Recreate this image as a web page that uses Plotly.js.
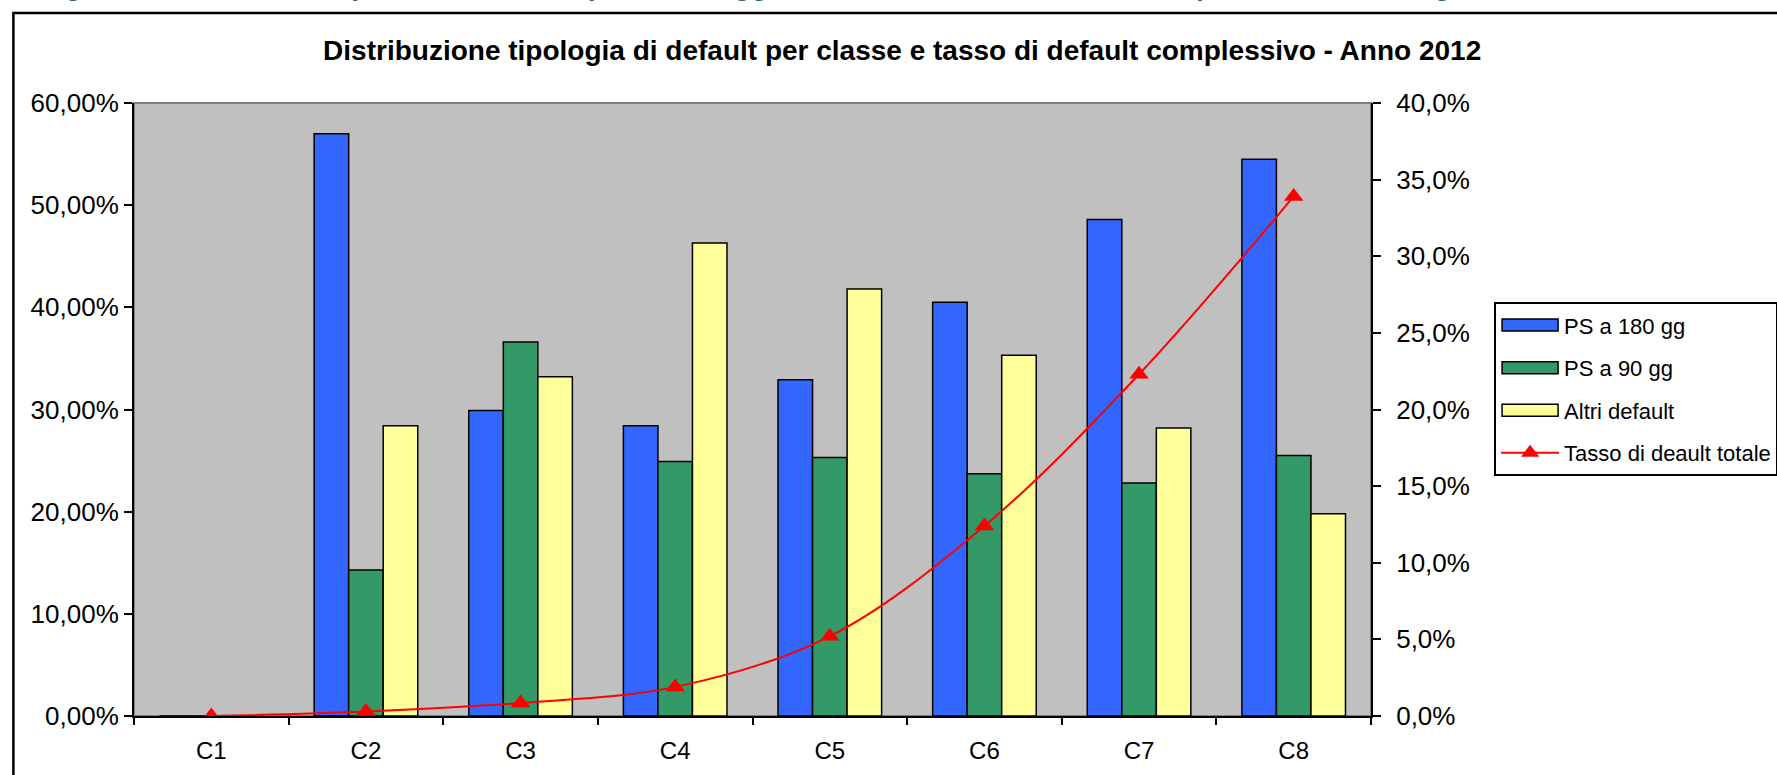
<!DOCTYPE html>
<html>
<head>
<meta charset="utf-8">
<script src="https://cdn.plot.ly/plotly-3.0.1.min.js"></script>
<style>
  html, body { margin: 0; padding: 0; background: #ffffff; }
  #chart { width: 1777px; height: 775px; }
</style>
</head>
<body>
<div id="chart"></div>
<script>
// ---- data ----
const categories = ['C1', 'C2', 'C3', 'C4', 'C5', 'C6', 'C7', 'C8'];
const ps180 = [0, 57.0, 29.9, 28.4, 32.9, 40.5, 48.6, 54.5];
const ps90 = [0, 14.3, 36.6, 24.9, 25.3, 23.7, 22.8, 25.5];
const altri = [0, 28.4, 33.2, 46.3, 41.8, 35.3, 28.2, 19.8];
const tasso = [0.0, 0.3, 0.85, 1.9, 5.2, 12.4, 22.3, 33.9];
const seriesNames = ['PS a 180 gg', 'PS a 90 gg', 'Altri default', 'Tasso di deault totale'];
const chartTitle = 'Distribuzione tipologia di default per classe e tasso di default complessivo - Anno 2012';
const captionText = 'Figura 5: Distribuzione percentuale delle posizioni oggetto di default e tasso di default per classe di rating - Anno 2012';

const FONT = 'Liberation Sans, Arial, Helvetica, sans-serif';
const barLine = { color: '#000000', width: 1.5 };

const traces = [
  { type: 'bar', name: seriesNames[0], x: categories, y: ps180,
    marker: { color: '#3366FF', line: barLine }, legendgroup: 'a', hoverinfo: 'x+y' },
  { type: 'bar', name: seriesNames[1], x: categories, y: ps90,
    marker: { color: '#339966', line: barLine }, legendgroup: 'b', hoverinfo: 'x+y' },
  { type: 'bar', name: seriesNames[2], x: categories, y: altri,
    marker: { color: '#FFFF99', line: barLine }, legendgroup: 'c', hoverinfo: 'x+y' },
  { type: 'scatter', mode: 'lines+markers', name: seriesNames[3], x: categories, y: tasso,
    yaxis: 'y2', line: { color: '#FF0000', width: 2, shape: 'spline', smoothing: 1 },
    marker: { symbol: 'triangle-up', size: 17, color: '#FF0000' }, legendgroup: 'd' }
];

const n = categories.length;
const boundaries = Array.from({ length: n + 1 }, (_, i) => i - 0.5);

const layout = {
  width: 1777, height: 775,
  margin: { l: 134, r: 406, t: 103, b: 59, pad: 0, autoexpand: false },
  paper_bgcolor: '#ffffff',
  plot_bgcolor: '#C0C0C0',
  separators: ',.',
  showlegend: true,
  barmode: 'group',
  bargap: 0.33,
  bargroupgap: 0,
  font: { family: FONT, color: '#000000', size: 26 },
  title: {
    text: chartTitle,
    font: { family: FONT, size: 28, weight: 'bold', color: '#000000' },
    xref: 'paper', x: 0.621, xanchor: 'center',
    yref: 'container', y: 1 - 50 / 775, yanchor: 'middle'
  },
  xaxis: {
    type: 'category', range: [-0.5, n - 0.5], autorange: false,
    showline: true, linecolor: '#000000', linewidth: 2,
    ticks: 'outside', tickson: 'boundaries', ticklen: 7, tickwidth: 2, tickcolor: '#000000',
    showgrid: false, zeroline: false,
    tickfont: { family: FONT, size: 24 }, ticklabelstandoff: 12
  },
  xaxis2: {
    overlaying: 'x', anchor: 'y', range: [-0.5, n - 0.5], autorange: false,
    tickmode: 'array', tickvals: boundaries, ticks: 'inside', ticklen: 6, tickwidth: 2,
    tickcolor: '#000000', showticklabels: false, showgrid: false, zeroline: false, showline: false
  },
  yaxis: {
    range: [0, 60], autorange: false, dtick: 10, tick0: 0,
    tickformat: '.2f', ticksuffix: '%',
    showline: true, linecolor: '#000000', linewidth: 2,
    ticks: 'outside', ticklen: 8, tickwidth: 2, tickcolor: '#000000',
    showgrid: false, zeroline: false,
    tickfont: { family: FONT, size: 26 }
  },
  yaxis3: {
    overlaying: 'y', side: 'left', anchor: 'x', range: [0, 60], autorange: false, dtick: 10,
    ticks: 'inside', ticklen: 6, tickwidth: 2, tickcolor: '#000000',
    showticklabels: false, showgrid: false, zeroline: false, showline: false
  },
  yaxis2: {
    overlaying: 'y', side: 'right', anchor: 'x',
    range: [0, 40], autorange: false, dtick: 5, tick0: 0,
    tickformat: '.1f', ticksuffix: '%',
    showline: true, linecolor: '#000000', linewidth: 2,
    ticks: 'outside', ticklen: 8, tickwidth: 2, tickcolor: '#000000',
    showgrid: false, zeroline: false,
    tickfont: { family: FONT, size: 26 }, ticklabelstandoff: 10
  },
  yaxis4: {
    overlaying: 'y', side: 'right', anchor: 'x', range: [0, 40], autorange: false, dtick: 5,
    ticks: 'inside', ticklen: 7, tickwidth: 2, tickcolor: '#000000',
    showticklabels: false, showgrid: false, zeroline: false, showline: false
  },
  legend: {
    x: 1.0995, y: 0.675, xanchor: 'left', yanchor: 'top',
    bgcolor: '#ffffff', bordercolor: '#000000', borderwidth: 2,
    font: { family: FONT, size: 22, color: '#000000' },
    traceorder: 'grouped', tracegroupgap: 11, itemwidth: 58
  },
  shapes: [
    { type: 'rect', xref: 'paper', yref: 'paper', x0: 0, x1: 1, y0: 0, y1: 1,
      line: { color: '#808080', width: 2 }, fillcolor: 'rgba(0,0,0,0)', layer: 'below' },
    { type: 'rect', xref: 'paper', yref: 'paper', x0: -0.0975, x1: 1.6, y0: -0.3, y1: 1.1467,
      line: { color: '#000000', width: 2.5 }, fillcolor: 'rgba(0,0,0,0)', layer: 'below' }
  ],
  annotations: [
    { text: captionText, xref: 'paper', yref: 'paper', x: -0.078, xanchor: 'left',
      y: 1.163, yanchor: 'bottom', showarrow: false,
      font: { family: FONT, size: 28, weight: 'bold', color: '#2E6B3E' } }
  ]
};

function widenLegendBars() {
  // Excel-style wide rectangles for the bar entries of the legend
  document.querySelectorAll('#chart .legend .legendpoints path').forEach(function (p) {
    const d = (p.getAttribute('d') || '').replace(/\s/g, '');
    if (/^M6,6H-6V-6H6Z$/i.test(d) || p.classList.contains('legendbar')) {
      p.setAttribute('d', 'M28,6H-28V-6H28Z');
    }
  });
}

const gd = document.getElementById('chart');
Plotly.newPlot(gd, traces, layout, { displayModeBar: false, staticPlot: true }).then(function () {
  widenLegendBars();
  gd.on && gd.on('plotly_afterplot', widenLegendBars);
  setTimeout(widenLegendBars, 50);
  setTimeout(widenLegendBars, 300);
});
</script>
</body>
</html>
